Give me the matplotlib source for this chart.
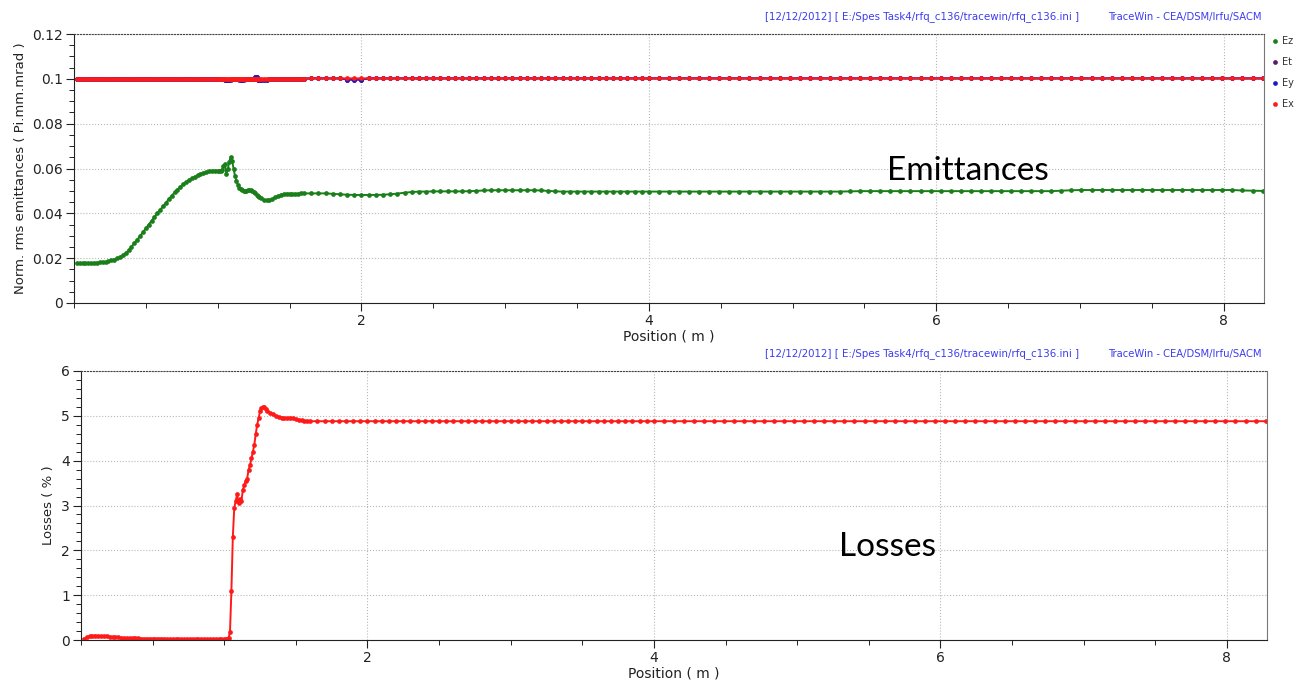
import numpy as np
import matplotlib.pyplot as plt
from matplotlib.ticker import MultipleLocator, FixedLocator, FuncFormatter
from matplotlib.lines import Line2D

# position along the RFQ (m)
pos = [0.02, 0.04, 0.06, 0.08, 0.10, 0.12, 0.14, 0.16, 0.18, 0.20,
       0.22, 0.24, 0.26, 0.28, 0.30, 0.32, 0.34, 0.36, 0.38, 0.40,
       0.42, 0.44, 0.46, 0.48, 0.50, 0.52, 0.54, 0.56, 0.58, 0.60,
       0.62, 0.64, 0.66, 0.68, 0.70, 0.72, 0.74, 0.76, 0.78, 0.80,
       0.82, 0.84, 0.86, 0.88, 0.90, 0.92, 0.94, 0.96, 0.98, 1.00,
       1.01, 1.02, 1.03, 1.04, 1.05, 1.06, 1.07, 1.08, 1.09, 1.10,
       1.11, 1.12, 1.13, 1.14, 1.15, 1.16, 1.17, 1.18, 1.19, 1.20,
       1.21, 1.22, 1.23, 1.24, 1.25, 1.26, 1.27, 1.28, 1.29, 1.30,
       1.32, 1.34, 1.36, 1.38, 1.40, 1.42, 1.44, 1.46, 1.48, 1.50,
       1.52, 1.54, 1.56, 1.58, 1.60,
       1.65, 1.70, 1.75, 1.80, 1.85, 1.90, 1.95, 2.00, 2.05, 2.10,
       2.15, 2.20, 2.25, 2.30, 2.35, 2.40, 2.45, 2.50, 2.55, 2.60,
       2.65, 2.70, 2.75, 2.80, 2.85, 2.90, 2.95, 3.00, 3.05, 3.10,
       3.15, 3.20, 3.25, 3.30, 3.35, 3.40, 3.45, 3.50, 3.55, 3.60,
       3.65, 3.70, 3.75, 3.80, 3.85, 3.90, 3.95, 4.00,
       4.07, 4.14, 4.21, 4.28, 4.35, 4.42, 4.49, 4.56, 4.63, 4.70,
       4.77, 4.84, 4.91, 4.98, 5.05, 5.12, 5.19, 5.26, 5.33, 5.40,
       5.47, 5.54, 5.61, 5.68, 5.75, 5.82, 5.89, 5.96, 6.03, 6.10,
       6.17, 6.24, 6.31, 6.38, 6.45, 6.52, 6.59, 6.66, 6.73, 6.80,
       6.87, 6.94, 7.01, 7.08, 7.15, 7.22, 7.29, 7.36, 7.43, 7.50,
       7.57, 7.64, 7.71, 7.78, 7.85, 7.92, 7.99, 8.06, 8.13, 8.20,
       8.27]

ez = [.0178, .0178, .0178, .0178, .0178, .0178, .0179, .0180, .0181, .0182,
      .0184, .0187, .0190, .0194, .0199, .0205, .0213, .0223, .0235, .0251,
      .0267, .0283, .0299, .0316, .0333, .0350, .0367, .0384, .0400, .0416,
      .0432, .0447, .0464, .0479, .0493, .0506, .0518, .0529, .0539, .0548,
      .0556, .0563, .0570, .0576, .0581, .0585, .0588, .0590, .0591, .0590,
      .0589, .0588, .0595, .0612, .0620, .0575, .0598, .0628, .0652, .0635,
      .0600, .0568, .0545, .0528, .0515, .0507, .0502, .0500, .0500, .0501,
      .0503, .0504, .0504, .0501, .0496, .0490, .0484, .0478, .0473, .0468,
      .0461, .0458, .0459, .0464, .0471, .0478, .0483, .0486, .0488, .0488,
      .0487, .0487, .0488, .0489, .0489,
      .0489, .0489, .0489, .0487, .0485, .0483, .0482, .0482, .0482, .0482,
      .0483, .0485, .0488, .0492, .0495, .0497, .0497, .0498, .0498, .0498,
      .0498, .0498, .0499, .0500, .0502, .0503, .0503, .0503, .0503, .0503,
      .0503, .0503, .0502, .0500, .0498, .0497, .0497, .0497, .0497, .0497,
      .0497, .0497, .0497, .0497, .0497, .0497, .0497, .0497,
      .0497, .0497, .0497, .0497, .0497, .0497, .0497, .0497, .0497, .0497,
      .0497, .0497, .0497, .0497, .0497, .0497, .0497, .0497, .0497, .0498,
      .0499, .0499, .0499, .0499, .0499, .0499, .0499, .0499, .0499, .0499,
      .0499, .0499, .0499, .0499, .0499, .0499, .0499, .0499, .0499, .0499,
      .0501, .0503, .0504, .0504, .0504, .0504, .0504, .0504, .0504, .0504,
      .0504, .0504, .0504, .0504, .0504, .0504, .0504, .0504, .0502, .0501,
      .0500]

et = [.1000, .1000, .1000, .1000, .1000, .1000, .1000, .1000, .1000, .1000,
      .1000, .1000, .1000, .1000, .1000, .1000, .1000, .1000, .1000, .1000,
      .1000, .1000, .1000, .1000, .1000, .1000, .1000, .1000, .1000, .1000,
      .1000, .1000, .1000, .1000, .1000, .1000, .1000, .1000, .1000, .1000,
      .1000, .1000, .1000, .1000, .1000, .1000, .1000, .1000, .1000, .1000,
      .1001, .1001, .1001, .1001, .0996, .0995, .0996, .0996, .0996, .1001,
      .1001, .1001, .1001, .1001, .1001, .0996, .0995, .0996, .1001, .1001,
      .1001, .1001, .1001, .1001, .1001, .1006, .1007, .0996, .0995, .0995,
      .0995, .0996, .1001, .1001, .1001, .1001, .1001, .1001, .1001, .1001,
      .1001, .1001, .1001, .1001, .1001,
      .1002, .1002, .1002, .1002, .1002, .0997, .0996, .0997, .1002, .1002,
      .1002, .1002, .1002, .1002, .1002, .1002, .1002, .1002, .1002, .1002,
      .1002, .1002, .1002, .1002, .1002, .1002, .1002, .1002, .1002, .1002,
      .1002, .1002, .1002, .1002, .1002, .1002, .1002, .1002, .1002, .1002,
      .1002, .1002, .1002, .1002, .1002, .1002, .1002, .1002,
      .1002, .1002, .1002, .1002, .1002, .1002, .1002, .1002, .1002, .1002,
      .1002, .1002, .1002, .1002, .1002, .1002, .1002, .1002, .1002, .1002,
      .1002, .1002, .1002, .1002, .1002, .1002, .1002, .1002, .1002, .1002,
      .1002, .1002, .1002, .1002, .1002, .1002, .1002, .1002, .1002, .1002,
      .1002, .1002, .1002, .1002, .1002, .1002, .1002, .1002, .1002, .1002,
      .1002, .1002, .1002, .1002, .1002, .1002, .1002, .1002, .1002, .1002,
      .1002]

ey = [.1000, .1000, .1000, .1000, .1000, .1000, .1000, .1000, .1000, .1000,
      .1000, .1000, .1000, .1000, .1000, .1000, .1000, .1000, .1000, .1000,
      .1000, .1000, .1000, .1000, .1000, .1000, .1000, .1000, .1000, .1000,
      .1000, .1000, .1000, .1000, .1000, .1000, .1000, .1000, .1000, .1000,
      .1000, .1000, .1000, .1000, .1000, .1000, .1000, .1000, .1000, .1000,
      .1001, .1001, .1001, .1001, .0996, .0995, .0995, .0996, .1001, .1001,
      .1001, .1001, .1001, .1001, .0996, .0995, .0995, .1001, .1001, .1001,
      .1001, .1001, .1001, .1001, .1001, .1006, .1007, .0995, .0995, .0995,
      .0996, .0996, .1001, .1001, .1001, .1001, .1001, .1001, .1001, .1001,
      .1001, .1001, .1001, .1001, .1001,
      .1002, .1002, .1002, .1002, .1002, .0997, .0996, .0997, .1002, .1002,
      .1002, .1002, .1002, .1002, .1002, .1002, .1002, .1002, .1002, .1002,
      .1002, .1002, .1002, .1002, .1002, .1002, .1002, .1002, .1002, .1002,
      .1002, .1002, .1002, .1002, .1002, .1002, .1002, .1002, .1002, .1002,
      .1002, .1002, .1002, .1002, .1002, .1002, .1002, .1002,
      .1002, .1002, .1002, .1002, .1002, .1002, .1002, .1002, .1002, .1002,
      .1002, .1002, .1002, .1002, .1002, .1002, .1002, .1002, .1002, .1002,
      .1002, .1002, .1002, .1002, .1002, .1002, .1002, .1002, .1002, .1002,
      .1002, .1002, .1002, .1002, .1002, .1002, .1002, .1002, .1002, .1002,
      .1002, .1002, .1002, .1002, .1002, .1002, .1002, .1002, .1002, .1002,
      .1002, .1002, .1002, .1002, .1002, .1002, .1002, .1002, .1002, .1002,
      .1002]

ex = [.1000, .1000, .1000, .1000, .1000, .1000, .1000, .1000, .1000, .1000,
      .1000, .1000, .1000, .1000, .1000, .1000, .1000, .1000, .1000, .1000,
      .1000, .1000, .1000, .1000, .1000, .1000, .1000, .1000, .1000, .1000,
      .1000, .1000, .1000, .1000, .1000, .1000, .1000, .1000, .1000, .1000,
      .1000, .1000, .1000, .1000, .1000, .1000, .1000, .1000, .1000, .1000,
      .1001, .1001, .1001, .1001, .1001, .1001, .1001, .1001, .1001, .1001,
      .1001, .1001, .1001, .1001, .1001, .1001, .1001, .1001, .1001, .1001,
      .1001, .1001, .1001, .1001, .1001, .1001, .1001, .1001, .1001, .1001,
      .1001, .1001, .1001, .1001, .1001, .1001, .1001, .1001, .1001, .1001,
      .1001, .1001, .1001, .1001, .1001,
      .1002, .1002, .1002, .1002, .1002, .1002, .1002, .1002, .1002, .1002,
      .1002, .1002, .1002, .1002, .1002, .1002, .1002, .1002, .1002, .1002,
      .1002, .1002, .1002, .1002, .1002, .1002, .1002, .1002, .1002, .1002,
      .1002, .1002, .1002, .1002, .1002, .1002, .1002, .1002, .1002, .1002,
      .1002, .1002, .1002, .1002, .1002, .1002, .1002, .1002,
      .1002, .1002, .1002, .1002, .1002, .1002, .1002, .1002, .1002, .1002,
      .1002, .1002, .1002, .1002, .1002, .1002, .1002, .1002, .1002, .1002,
      .1002, .1002, .1002, .1002, .1002, .1002, .1002, .1002, .1002, .1002,
      .1002, .1002, .1002, .1002, .1002, .1002, .1002, .1002, .1002, .1002,
      .1002, .1002, .1002, .1002, .1002, .1002, .1002, .1002, .1002, .1002,
      .1002, .1002, .1002, .1002, .1002, .1002, .1002, .1002, .1002, .1002,
      .1002]

# losses in percent
losses = [0.03, 0.06, 0.08, 0.09, 0.10, 0.09, 0.09, 0.08, 0.08, 0.07,
          0.07, 0.06, 0.06, 0.05, 0.05, 0.04, 0.04, 0.04, 0.04, 0.04,
          0.03, 0.03, 0.03, 0.03, 0.03, 0.03, 0.03, 0.03, 0.03, 0.02,
          0.02, 0.02, 0.02, 0.02, 0.02, 0.02, 0.02, 0.02, 0.02, 0.02,
          0.02, 0.02, 0.02, 0.02, 0.02, 0.02, 0.02, 0.02, 0.02, 0.02,
          0.02, 0.02, 0.05, 0.17, 1.10, 2.30, 2.95, 3.10, 3.25, 3.05,
          3.15, 3.10, 3.35, 3.45, 3.55, 3.60, 3.80, 3.90, 4.05, 4.20,
          4.35, 4.60, 4.80, 4.95, 5.10, 5.17, 5.20, 5.19, 5.15, 5.10,
          5.07, 5.04, 5.00, 4.97, 4.96, 4.95, 4.95, 4.96, 4.95, 4.93,
          4.91, 4.90, 4.89, 4.89, 4.88,
          4.88, 4.88, 4.88, 4.88, 4.88, 4.88, 4.88, 4.88, 4.88, 4.88,
          4.88, 4.88, 4.88, 4.88, 4.88, 4.88, 4.88, 4.88, 4.88, 4.88,
          4.88, 4.88, 4.88, 4.88, 4.88, 4.88, 4.88, 4.88, 4.88, 4.88,
          4.88, 4.88, 4.88, 4.88, 4.88, 4.88, 4.88, 4.88, 4.88, 4.88,
          4.88, 4.88, 4.88, 4.88, 4.88, 4.88, 4.88, 4.88,
          4.88, 4.88, 4.88, 4.88, 4.88, 4.88, 4.88, 4.88, 4.88, 4.88,
          4.88, 4.88, 4.88, 4.88, 4.88, 4.88, 4.88, 4.88, 4.88, 4.88,
          4.88, 4.88, 4.88, 4.88, 4.88, 4.88, 4.88, 4.88, 4.88, 4.88,
          4.88, 4.88, 4.88, 4.88, 4.88, 4.88, 4.88, 4.88, 4.88, 4.88,
          4.88, 4.88, 4.88, 4.88, 4.88, 4.88, 4.88, 4.88, 4.88, 4.88,
          4.88, 4.88, 4.88, 4.88, 4.88, 4.88, 4.88, 4.88, 4.88, 4.88,
          4.88]

header = '[12/12/2012] [ E:/Spes Task4/rfq_c136/tracewin/rfq_c136.ini ]'
credit = 'TraceWin - CEA/DSM/Irfu/SACM'
legend_labels = ['Ez', 'Et', 'Ey', 'Ex']
legend_colors = ['#1a7f1a', '#5a1a6e', '#1a1ad0', '#ff1a1a']

W, H = 1311, 688
fig = plt.figure(figsize=(W / 100, H / 100), dpi=100)
ax1 = fig.add_axes([74 / W, 1 - 303 / H, 1190 / W, 269 / H])
ax2 = fig.add_axes([81 / W, 1 - 640 / H, 1186 / W, 269 / H])


def style(ax, ytop, ymaj, ymin):
    ax.set_xlim(0, 8.28)
    ax.set_ylim(0, ytop)
    ax.xaxis.set_major_locator(FixedLocator([2, 4, 6, 8]))
    ax.xaxis.set_minor_locator(MultipleLocator(0.5))
    ax.yaxis.set_major_locator(MultipleLocator(ymaj))
    ax.yaxis.set_minor_locator(MultipleLocator(ymin))
    ax.yaxis.set_major_formatter(FuncFormatter(lambda v, p: '%g' % round(v, 4)))
    ax.grid(True, which='major', linestyle=':', color='#b8b8b8', linewidth=0.8)
    ax.set_axisbelow(True)
    ax.tick_params(which='major', length=6, width=0.8, direction='out',
                   labelsize=10, colors='#222222', pad=2)
    ax.tick_params(which='minor', length=3.5, width=0.7, direction='out',
                   colors='#222222')
    ax.spines['top'].set_linestyle(':')
    ax.spines['top'].set_color('#444444')
    ax.spines['right'].set_color('#777777')
    ax.spines['left'].set_color('#222222')
    ax.spines['bottom'].set_color('#222222')
    ax.set_xlabel('Position ( m )', fontsize=10, color='#222222', labelpad=1)


style(ax1, 0.12, 0.02, 0.005)
style(ax2, 6, 1, 0.2)

series = [ez, et, ey, ex]
for vals, col in zip(series, legend_colors):
    ax1.plot(pos, vals, '-o', color=col, lw=1.4, ms=3.4, mew=0)
ax1.set_ylabel('Norm. rms emittances ( Pi.mm.mrad )', fontsize=9.5,
               color='#222222', labelpad=4)

ax2.plot(pos, losses, '-o', color='#ff1a1a', lw=1.4, ms=3.4, mew=0)
ax2.set_ylabel('Losses ( % )', fontsize=9.5, color='#222222', labelpad=4)

# header texts
for ytxt in (17, 354):
    fig.text(765 / W, 1 - ytxt / H, header, fontsize=7.4, color='#3c3cf0',
             va='center', ha='left')
    fig.text(1262 / W, 1 - ytxt / H, credit, fontsize=7.2, color='#3c3cf0',
             va='center', ha='right')

# legend at right
for i, (lab, col) in enumerate(zip(legend_labels, legend_colors)):
    yy = 1 - (41 + 21 * i) / H
    fig.add_artist(Line2D([1275 / W], [yy], marker='o', ms=3.4, mew=0,
                          color=col, transform=fig.transFigure))
    fig.text(1282 / W, yy, lab, fontsize=7, color='#333333', va='center')

fig.text(968 / W, 1 - 171 / H, 'Emittances', fontsize=24, ha='center',
         va='center', family=['Lato', 'DejaVu Sans'])
fig.text(887 / W, 1 - 547 / H, 'Losses', fontsize=24, ha='center',
         va='center', family=['Lato', 'DejaVu Sans'])

fig.savefig('out.png', dpi=100)
